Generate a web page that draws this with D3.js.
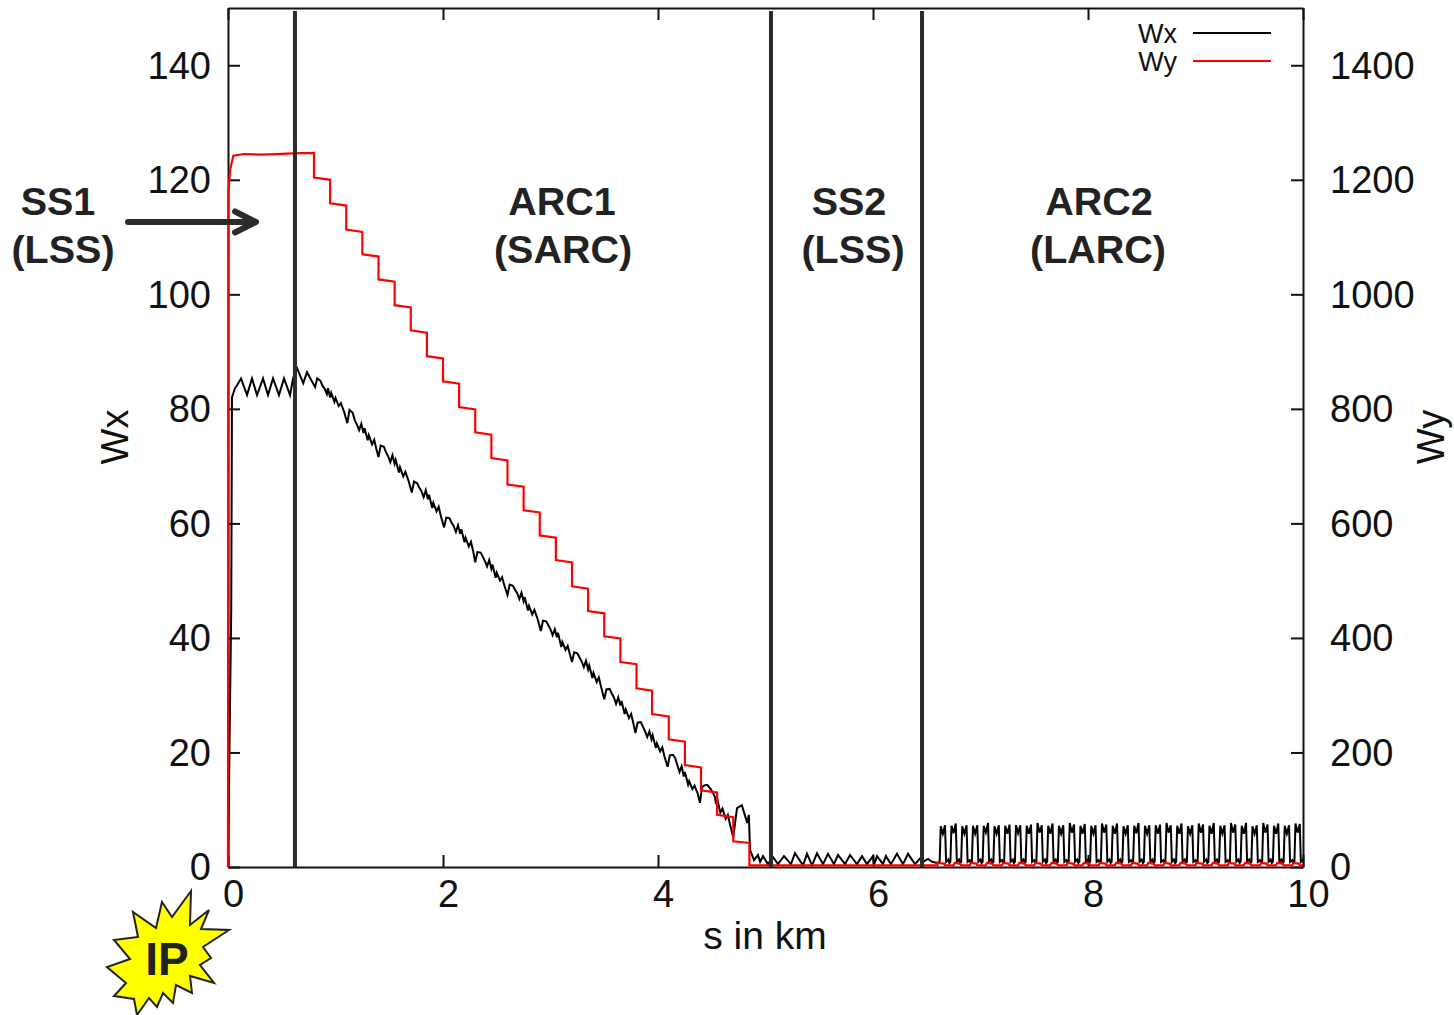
<!DOCTYPE html>
<html>
<head>
<meta charset="utf-8">
<script src="https://cdn.jsdelivr.net/npm/d3@7"></script>
<style>
  body { margin: 0; background: #fff; }
  text { font-family: "Liberation Sans", Arial, sans-serif; fill: #111; }
</style>
</head>
<body>
<svg id="chart" width="1454" height="1015"></svg>
<script>
// ticks
const xTicks = [0, 2, 4, 6, 8, 10];
const wxTicks = [0, 20, 40, 60, 80, 100, 120, 140];
const wyTicks = [0, 200, 400, 600, 800, 1000, 1200, 1400];

// section borders in km
const sectionBorders = [0.623, 5.051, 6.456];

// Wx as [s, Wx]
const wxSS1 = [[0, 0], [0.03, 45], [0.037, 82], [0.065, 83.6], [0.08, 84], [0.121, 85.3], [0.177, 82.4], [0.223, 85.3],
  [0.27, 82.4], [0.326, 85.3], [0.372, 82.4], [0.419, 85.3], [0.474, 82.4], [0.521, 85.3], [0.577, 82.4], [0.605, 85.3],
  [0.642, 87.1], [0.70, 84.5], [0.735, 86.4]];
const wxArc1 = [
  [0.81, 83.8], [0.83, 85.3], [0.86, 84.9], [0.88, 84.0], [0.90, 83.5], [0.92, 82.6], [0.93, 83.6], [0.95, 82.0], [0.96, 82.8], [0.99, 81.2], [1.00, 81.9], [1.03, 80.5], [1.05, 81.0], [1.08, 79.5],
  [1.11, 77.5], [1.13, 79.8], [1.16, 79.3], [1.18, 78.0], [1.20, 77.2], [1.22, 76.3], [1.24, 77.4], [1.26, 75.8], [1.27, 76.6], [1.30, 74.5], [1.31, 75.4], [1.34, 73.8], [1.36, 74.6], [1.38, 73.0],
  [1.40, 71.6], [1.42, 73.6], [1.45, 73.4], [1.47, 72.4], [1.49, 71.7], [1.51, 70.7], [1.53, 71.9], [1.55, 70.4], [1.56, 71.1], [1.59, 68.9], [1.60, 69.8], [1.63, 68.2], [1.65, 69.0], [1.68, 67.4],
  [1.71, 65.4], [1.73, 67.3], [1.76, 67.0], [1.78, 66.2], [1.80, 65.6], [1.82, 64.6], [1.84, 65.8], [1.86, 64.2], [1.87, 65.0], [1.90, 62.7], [1.91, 63.6], [1.94, 62.1], [1.96, 62.9], [1.98, 61.3],
  [2.01, 59.3], [2.03, 61.0], [2.06, 60.9], [2.08, 60.1], [2.10, 59.5], [2.12, 58.5], [2.14, 59.7], [2.16, 58.2], [2.17, 59.0], [2.20, 56.7], [2.21, 57.5], [2.24, 56.0], [2.26, 56.8], [2.28, 55.2],
  [2.30, 53.2], [2.32, 55.0], [2.35, 54.9], [2.37, 54.2], [2.39, 53.4], [2.41, 52.5], [2.43, 53.6], [2.45, 52.1], [2.46, 52.8], [2.49, 50.5], [2.50, 51.4], [2.53, 50.0], [2.55, 50.6], [2.57, 49.2],
  [2.60, 47.5], [2.62, 49.3], [2.65, 49.1], [2.67, 48.4], [2.69, 47.8], [2.71, 46.8], [2.73, 47.9], [2.75, 46.4], [2.76, 47.1], [2.79, 44.8], [2.80, 45.6], [2.83, 44.1], [2.85, 44.9], [2.88, 43.3],
  [2.91, 41.2], [2.93, 43.0], [2.96, 42.9], [2.98, 42.2], [3.00, 41.5], [3.02, 40.5], [3.04, 41.5], [3.06, 40.1], [3.07, 40.9], [3.10, 38.4], [3.11, 39.3], [3.14, 37.9], [3.16, 38.6], [3.18, 37.2],
  [3.20, 35.8], [3.22, 37.5], [3.25, 37.3], [3.27, 36.6], [3.29, 35.9], [3.31, 34.9], [3.33, 36.0], [3.35, 34.5], [3.36, 35.2], [3.39, 33.0], [3.40, 33.9], [3.43, 32.3], [3.45, 33.1], [3.47, 31.5],
  [3.50, 29.3], [3.52, 31.0], [3.55, 31.1], [3.57, 30.3], [3.59, 29.6], [3.61, 28.5], [3.63, 29.6], [3.65, 28.2], [3.66, 29.0], [3.69, 26.7], [3.70, 27.5], [3.73, 26.0], [3.75, 26.7], [3.77, 25.2],
  [3.79, 23.4], [3.81, 25.2], [3.84, 25.3], [3.86, 24.5], [3.88, 23.7], [3.90, 22.7], [3.92, 23.7], [3.94, 22.3], [3.95, 23.0], [3.98, 20.8], [3.99, 21.6], [4.02, 20.2], [4.04, 20.9], [4.06, 19.3],
  [4.09, 17.5], [4.11, 19.5], [4.14, 19.6], [4.16, 19.0], [4.18, 17.8], [4.20, 16.6], [4.22, 17.6], [4.24, 15.8], [4.25, 16.6], [4.28, 14.4], [4.29, 15.0], [4.32, 13.6], [4.34, 14.2], [4.37, 12.8],
  [4.39, 11.2], [4.41, 14.0], [4.44, 14.3], [4.46, 14.3], [4.49, 13.6], [4.51, 13.0], [4.53, 12.2], [4.54, 11.0], [4.55, 12.0], [4.58, 9.5], [4.60, 10.2], [4.63, 8.4], [4.65, 9.1], [4.67, 7.4],
  [4.70, 5.2], [4.735, 10.3], [4.78, 10.8], [4.83, 7.7], [4.845, 9.1], [4.856, 3.0]];
const wxSS2 = [[4.893, 1.2], [4.93, 2.1], [4.95, 0.9], [4.977, 1.9], [5.023, 0.5], [5.07, 1.7], [5.116, 0.5], [5.172, 1.9],
  [5.237, 0.5], [5.274, 2.4], [5.349, 0.3], [5.386, 2.3], [5.433, 0.3], [5.479, 2.4], [5.535, 0.5], [5.581, 2.3],
  [5.637, 0.5], [5.674, 2.1], [5.74, 0.5], [5.786, 2.1], [5.851, 0.5], [5.898, 1.9], [5.944, 0.5], [6.0, 1.9],
  [6.01, 0.4], [6.037, 1.9], [6.093, 0.5], [6.12, 1.9], [6.167, 0.5], [6.223, 2.3], [6.279, 0.5], [6.326, 2.3],
  [6.391, 0.5], [6.447, 1.7], [6.465, 0.9], [6.512, 1.4], [6.55, 0.9], [6.595, 0.7]];
const wxArc2 = [
  [6.62, 0.9], [6.63, 7.1], [6.65, 5.8], [6.67, 7.3], [6.68, 0.9], [6.70, 1.3], [6.71, 0.7],
  [6.72, 0.9], [6.73, 7.2], [6.75, 5.9], [6.77, 7.6], [6.78, 0.9], [6.80, 1.3], [6.81, 0.7],
  [6.82, 0.9], [6.83, 7.1], [6.85, 5.8], [6.87, 7.3], [6.88, 0.9], [6.90, 1.2], [6.91, 0.7],
  [6.92, 0.9], [6.93, 7.2], [6.95, 5.8], [6.97, 7.3], [6.98, 0.9], [7.00, 1.3], [7.01, 0.7],
  [7.02, 0.9], [7.03, 7.2], [7.05, 6.0], [7.07, 7.7], [7.08, 0.9], [7.10, 1.3], [7.11, 0.7],
  [7.12, 0.9], [7.13, 7.1], [7.15, 5.8], [7.17, 7.3], [7.18, 0.9], [7.20, 1.2], [7.21, 0.7],
  [7.22, 0.9], [7.23, 7.2], [7.25, 5.8], [7.27, 7.4], [7.28, 0.9], [7.30, 1.3], [7.31, 0.7],
  [7.32, 0.9], [7.33, 7.3], [7.35, 5.9], [7.37, 7.3], [7.38, 0.9], [7.40, 1.3], [7.41, 0.7],
  [7.42, 0.9], [7.43, 7.2], [7.45, 5.8], [7.47, 7.4], [7.48, 0.9], [7.50, 1.2], [7.51, 0.7],
  [7.52, 0.9], [7.53, 7.7], [7.55, 6.0], [7.57, 7.3], [7.58, 0.9], [7.60, 1.3], [7.61, 0.7],
  [7.62, 0.9], [7.63, 7.2], [7.65, 5.8], [7.67, 7.6], [7.68, 0.9], [7.70, 1.3], [7.71, 0.7],
  [7.72, 0.9], [7.73, 7.2], [7.75, 5.8], [7.77, 7.3], [7.78, 0.9], [7.80, 1.2], [7.81, 0.7],
  [7.82, 0.9], [7.83, 7.7], [7.85, 6.0], [7.87, 7.4], [7.88, 0.9], [7.90, 1.3], [7.91, 0.7],
  [7.92, 0.9], [7.93, 7.2], [7.95, 5.8], [7.97, 7.5], [7.98, 0.9], [8.00, 1.3], [8.01, 0.7],
  [8.02, 0.9], [8.03, 7.2], [8.05, 5.8], [8.07, 7.3], [8.08, 0.9], [8.10, 1.2], [8.11, 0.7],
  [8.12, 0.9], [8.13, 7.6], [8.15, 6.0], [8.17, 7.4], [8.18, 0.9], [8.20, 1.3], [8.21, 0.7],
  [8.22, 0.9], [8.23, 7.2], [8.25, 5.8], [8.27, 7.6], [8.28, 0.9], [8.30, 1.3], [8.31, 0.7],
  [8.32, 0.9], [8.33, 7.1], [8.35, 5.8], [8.37, 7.3], [8.38, 0.9], [8.40, 1.2], [8.41, 0.7],
  [8.42, 0.9], [8.43, 7.2], [8.45, 5.9], [8.47, 7.7], [8.48, 0.9], [8.50, 1.3], [8.51, 0.7],
  [8.52, 0.9], [8.53, 7.2], [8.55, 5.8], [8.57, 7.3], [8.58, 0.9], [8.60, 1.3], [8.61, 0.7],
  [8.62, 0.9], [8.63, 7.3], [8.65, 5.8], [8.67, 7.4], [8.68, 0.9], [8.70, 1.2], [8.71, 0.7],
  [8.72, 0.9], [8.73, 7.7], [8.75, 6.0], [8.77, 7.3], [8.78, 0.9], [8.80, 1.3], [8.81, 0.7],
  [8.82, 0.9], [8.83, 7.2], [8.85, 5.8], [8.87, 7.6], [8.88, 0.9], [8.90, 1.3], [8.91, 0.7],
  [8.92, 0.9], [8.93, 7.1], [8.95, 5.8], [8.97, 7.3], [8.98, 0.9], [9.00, 1.2], [9.01, 0.7],
  [9.02, 0.9], [9.03, 7.6], [9.05, 6.0], [9.07, 7.4], [9.08, 0.9], [9.10, 1.3], [9.11, 0.7],
  [9.12, 0.9], [9.13, 7.2], [9.15, 5.8], [9.17, 7.7], [9.18, 0.9], [9.20, 1.3], [9.21, 0.7],
  [9.22, 0.9], [9.23, 7.2], [9.25, 5.8], [9.27, 7.3], [9.28, 0.9], [9.30, 1.2], [9.31, 0.7],
  [9.32, 0.9], [9.33, 7.7], [9.35, 6.0], [9.37, 7.4], [9.38, 0.9], [9.40, 1.3], [9.41, 0.7],
  [9.42, 0.9], [9.43, 7.2], [9.45, 5.8], [9.47, 7.7], [9.48, 0.9], [9.50, 1.3], [9.51, 0.7],
  [9.52, 0.9], [9.53, 7.1], [9.55, 5.8], [9.57, 7.3], [9.58, 0.9], [9.60, 1.2], [9.61, 0.7],
  [9.62, 0.9], [9.63, 7.7], [9.65, 6.0], [9.67, 7.4], [9.68, 0.9], [9.70, 1.3], [9.71, 0.7],
  [9.72, 0.9], [9.73, 7.2], [9.75, 5.8], [9.77, 7.6], [9.78, 0.9], [9.80, 1.3], [9.81, 0.7],
  [9.82, 0.9], [9.83, 7.2], [9.85, 5.8], [9.87, 7.3], [9.88, 0.9], [9.90, 1.2], [9.91, 0.7],
  [9.92, 0.9], [9.93, 7.6], [9.95, 6.0], [9.97, 7.5], [9.98, 0.9], [10.0, 1.3]];

// Wy as [s, Wy]
const wySS1 = [[0, 0], [0.004, 1180], [0.02, 1218], [0.05, 1242], [0.15, 1245], [0.3, 1244], [0.45, 1245], [0.6, 1246], [0.8, 1247]];
const wyArc1 = [
  [0.80, 1204], [0.95, 1200], [0.95, 1159], [1.10, 1155], [1.10, 1113], [1.25, 1109], [1.25, 1070], [1.40, 1066],
  [1.40, 1026], [1.55, 1022], [1.55, 981], [1.70, 977], [1.70, 937], [1.85, 933], [1.85, 892], [2.00, 888],
  [2.00, 848], [2.15, 844], [2.15, 803], [2.30, 799], [2.30, 759], [2.45, 755], [2.45, 714], [2.60, 710],
  [2.60, 668], [2.75, 664], [2.75, 623], [2.90, 619], [2.90, 579], [3.05, 575], [3.05, 536], [3.20, 532],
  [3.20, 490], [3.35, 486], [3.35, 447], [3.50, 443], [3.50, 403], [3.65, 399], [3.65, 358], [3.80, 354],
  [3.80, 312], [3.945, 308], [3.945, 267], [4.10, 263], [4.10, 223], [4.25, 219], [4.25, 178], [4.40, 174],
  [4.40, 134], [4.55, 130], [4.55, 91], [4.70, 87], [4.70, 45], [4.85, 42], [4.85, 3]];
const wyArc2 = [[6.50, 3], [6.60, 3], [6.60, 7], [6.66, 6], [6.67, 3], [6.75, 3], [6.76, 7], [6.81, 6], [6.82, 3], [6.90, 3],
  [6.91, 7], [6.96, 6], [6.97, 3], [7.05, 3], [7.06, 7], [7.11, 6], [7.12, 3], [7.20, 3], [7.21, 7], [7.26, 6], [7.27, 3],
  [7.35, 3], [7.36, 7], [7.41, 6], [7.42, 3], [7.50, 3], [7.51, 7], [7.56, 6], [7.57, 3], [7.65, 3], [7.66, 7], [7.71, 6],
  [7.72, 3], [7.80, 3], [7.81, 7], [7.86, 6], [7.87, 3], [7.95, 3], [7.96, 7], [8.01, 6], [8.02, 3], [8.10, 3], [8.11, 7],
  [8.16, 6], [8.17, 3], [8.25, 3], [8.26, 7], [8.31, 6], [8.32, 3], [8.40, 3], [8.41, 7], [8.46, 6], [8.47, 3], [8.55, 3],
  [8.56, 7], [8.61, 6], [8.62, 3], [8.70, 3], [8.71, 7], [8.76, 6], [8.77, 3], [8.85, 3], [8.86, 7], [8.91, 6], [8.92, 3],
  [9.00, 3], [9.01, 7], [9.06, 6], [9.07, 3], [9.15, 3], [9.16, 7], [9.21, 6], [9.22, 3], [9.30, 3], [9.31, 7], [9.36, 6],
  [9.37, 3], [9.45, 3], [9.46, 7], [9.51, 6], [9.52, 3], [9.60, 3], [9.61, 7], [9.66, 6], [9.67, 3], [9.75, 3], [9.76, 7],
  [9.81, 6], [9.82, 3], [9.90, 3], [9.91, 7], [9.96, 6], [9.97, 3], [10.0, 3]];

const wxData = wxSS1.concat(wxArc1, wxSS2, wxArc2);
const wyData = wySS1.concat(wyArc1, wyArc2);

const sectionLabels = [
  { lines: ["SS1", "(LSS)"], cx: [58, 63] },
  { lines: ["ARC1", "(SARC)"], cx: [562, 563] },
  { lines: ["SS2", "(LSS)"], cx: [849, 853] },
  { lines: ["ARC2", "(LARC)"], cx: [1099, 1098] }
];

// outline of the IP burst, in page pixels
const burst = [[191, 891], [172, 917], [162, 902], [156, 928], [133, 912], [138, 937], [114, 940], [130, 959], [107, 967],
  [126, 983], [114, 996], [134, 999], [137, 1015], [149, 998], [157, 1007], [163, 993], [173, 1003], [176, 985], [192, 993],
  [190, 976], [214, 983], [200, 965], [211, 958], [203, 947], [229, 930], [201, 929], [209, 910], [190, 925]];

const margin = { top: 8, right: 150, bottom: 148, left: 228 };
const width = 1454 - margin.left - margin.right;
const height = 1015 - margin.top - margin.bottom;

const svg = d3.select("#chart");
const g = svg.append("g").attr("transform", "translate(" + margin.left + "," + margin.top + ")");

const x = d3.scaleLinear().domain([0, 10]).range([0, 1075]);
const yWx = d3.scaleLinear().domain([0, 150]).range([height, 0]);
const yWy = d3.scaleLinear().domain([0, 1500]).range([height, 0]);

// axes, ticks point inwards
function styleAxis(sel) {
  sel.selectAll("path, line").attr("stroke", "#111").attr("stroke-width", 2);
  sel.selectAll("text").style("font-size", "38px").attr("fill", "#111").attr("dy", "0.34em");
  sel.attr("font-family", null).attr("font-size", null);
}

g.append("g").attr("transform", "translate(0," + height + ")")
  .call(d3.axisBottom(x).tickValues(xTicks).tickFormat(d3.format("d")).tickSize(-12).tickSizeOuter(0).tickPadding(13))
  .call(styleAxis)
  .selectAll("text").attr("dx", 5).attr("dy", "0.71em");
g.append("g")
  .call(d3.axisTop(x).tickValues(xTicks).tickFormat("").tickSize(-12).tickSizeOuter(0))
  .call(styleAxis);
g.append("g")
  .call(d3.axisLeft(yWx).tickValues(wxTicks).tickFormat(d3.format("d")).tickSize(-12).tickSizeOuter(0).tickPadding(17))
  .call(styleAxis);
g.append("g").attr("transform", "translate(" + x(10) + ",0)")
  .call(d3.axisRight(yWy).tickValues(wyTicks).tickFormat(d3.format("d")).tickSize(-12).tickSizeOuter(0).tickPadding(27))
  .call(styleAxis);

// curves
const lineWx = d3.line().x(d => x(d[0])).y(d => yWx(d[1]));
const lineWy = d3.line().x(d => x(d[0])).y(d => yWy(d[1]));

g.append("path").datum(wxData).attr("fill", "none").attr("stroke", "#000")
  .attr("stroke-width", 2).attr("stroke-linejoin", "miter").attr("d", lineWx);
g.append("path").datum(wyData).attr("fill", "none").attr("stroke", "#f00")
  .attr("stroke-width", 2.2).attr("d", lineWy);

// section borders
g.selectAll("line.border").data(sectionBorders).enter().append("line")
  .attr("class", "border")
  .attr("x1", d => x(d)).attr("x2", d => x(d))
  .attr("y1", 3).attr("y2", height)
  .attr("stroke", "#2b2b2b").attr("stroke-width", 4);

// legend
const legend = [["Wx", "#000", 33], ["Wy", "#f00", 61]];
legend.forEach(l => {
  svg.append("text").attr("x", 1177).attr("y", l[2] + 10).attr("text-anchor", "end")
    .style("font-size", "27px").text(l[0]);
  svg.append("line").attr("x1", 1193).attr("x2", 1271).attr("y1", l[2]).attr("y2", l[2])
    .attr("stroke", l[1]).attr("stroke-width", 1.8);
});

// axis titles
svg.append("text").attr("x", 765).attr("y", 949).attr("text-anchor", "middle")
  .style("font-size", "39px").text("s in km");
svg.append("text").attr("transform", "translate(128,437) rotate(-90)").attr("text-anchor", "middle")
  .style("font-size", "38px").text("Wx");
svg.append("text").attr("transform", "translate(1444,437) rotate(-90)").attr("text-anchor", "middle")
  .style("font-size", "38px").text("Wy");

// section names
sectionLabels.forEach(s => {
  s.lines.forEach((t, i) => {
    svg.append("text").attr("x", s.cx[i]).attr("y", 215 + i * 48).attr("text-anchor", "middle")
      .style("font-size", "39.5px").style("font-weight", "bold").style("fill", "#222").text(t);
  });
});

// SS1 arrow
svg.append("path").attr("d", "M128,222H254M235,211.5L256,222L235,232.5")
  .attr("fill", "none").attr("stroke", "#2b2b2b").attr("stroke-width", 6)
  .attr("stroke-linecap", "round").attr("stroke-linejoin", "round");

// IP burst
svg.append("polygon").attr("points", burst.map(p => p.join(",")).join(" "))
  .attr("fill", "#ff0").attr("stroke", "#222").attr("stroke-width", 2);
svg.append("text").attr("x", 167).attr("y", 975).attr("text-anchor", "middle")
  .style("font-size", "46px").style("font-weight", "bold").style("fill", "#222").text("IP");
</script>
</body>
</html>
